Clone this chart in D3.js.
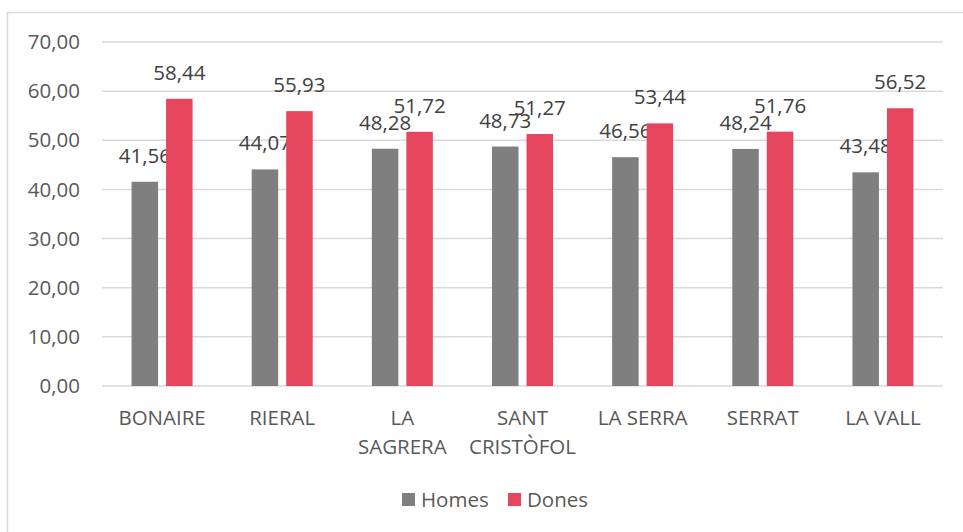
<!DOCTYPE html>
<html lang="ca">
<head>
<meta charset="utf-8">
<title>Homes i dones per barri</title>
<script src="https://d3js.org/d3.v7.min.js"></script>
<style>
  body { margin: 0; background: #fff; }
  text { font-family: "Open Sans", sans-serif; }
</style>
</head>
<body>
<div id="chart"></div>
<script>
// categories and values
var barris = [["BONAIRE"], ["RIERAL"], ["LA", "SAGRERA"], ["SANT", "CRISTÒFOL"], ["LA SERRA"], ["SERRAT"], ["LA VALL"]];
var homes = [41.56, 44.07, 48.28, 48.73, 46.56, 48.24, 43.48];
var dones = [58.44, 55.93, 51.72, 51.27, 53.44, 51.76, 56.52];
var yTicks = [0, 10, 20, 30, 40, 50, 60, 70];
var seriesNames = ["Homes", "Dones"];
var colors = ["#7f7f7f", "#e6455e"];

var W = 963, H = 532;
var plot = {left: 102, right: 943, top: 42, bottom: 386};
var fs = "20.5px";

var svg = d3.select("#chart").append("svg")
    .attr("width", W)
    .attr("height", H);

// chart area border (open on right and bottom, as cropped)
svg.append("rect")
    .attr("x", 7.5).attr("y", 12.5)
    .attr("width", W).attr("height", H)
    .attr("fill", "#fff")
    .attr("stroke", "#d9d9d9")
    .attr("stroke-width", 1.5);

var x = d3.scaleBand()
    .domain(d3.range(barris.length))
    .range([plot.left, plot.right]);

var x1 = d3.scaleBand()
    .domain([0, 1])
    .range([0, x.bandwidth()])
    .paddingInner(0.232)
    .paddingOuter(0.857);

var y = d3.scaleLinear().domain([0, 70]).range([plot.bottom, plot.top]);

var fmt = function(v) { return d3.format(".2f")(v).replace(".", ","); };

// gridlines
svg.append("g").selectAll("line")
    .data(yTicks)
    .enter().append("line")
    .attr("x1", plot.left).attr("x2", plot.right)
    .attr("y1", function(d) { return y(d); })
    .attr("y2", function(d) { return y(d); })
    .attr("stroke", "#d9d9d9")
    .attr("stroke-width", 1.5);

// y axis labels
svg.append("g").selectAll("text")
    .data(yTicks)
    .enter().append("text")
    .attr("x", 80)
    .attr("y", function(d) { return y(d); })
    .attr("dy", "0.35em")
    .attr("text-anchor", "end")
    .attr("fill", "#595959")
    .style("font-size", fs)
    .text(fmt);

// bars
var series = [homes, dones];
series.forEach(function(vals, s) {
    var g = svg.append("g");
    g.selectAll("rect")
        .data(vals)
        .enter().append("rect")
        .attr("x", function(d, i) { return x(i) + x1(s); })
        .attr("width", x1.bandwidth())
        .attr("y", function(d) { return y(d); })
        .attr("height", function(d) { return y(0) - y(d); })
        .attr("fill", colors[s]);
    g.selectAll("text")
        .data(vals)
        .enter().append("text")
        .attr("x", function(d, i) { return x(i) + x1(s) + x1.bandwidth() / 2; })
        .attr("y", function(d) { return y(d) - 19; })
        .attr("text-anchor", "middle")
        .attr("fill", "#404040")
        .style("font-size", fs)
        .text(fmt);
});

// category labels
var cat = svg.append("g").selectAll("text")
    .data(barris)
    .enter().append("text")
    .attr("x", function(d, i) { return x(i) + x.bandwidth() / 2; })
    .attr("y", 425)
    .attr("text-anchor", "middle")
    .attr("fill", "#595959")
    .style("font-size", fs);
cat.selectAll("tspan")
    .data(function(d) { return d; })
    .enter().append("tspan")
    .attr("x", function() { return this.parentNode.getAttribute("x"); })
    .attr("dy", function(d, i) { return i ? 29 : 0; })
    .text(function(d) { return d; });

// legend
var legX = [402, 508];
var leg = svg.append("g").selectAll("g")
    .data(seriesNames)
    .enter().append("g")
    .attr("transform", function(d, i) { return "translate(" + legX[i] + ",493)"; });
leg.append("rect")
    .attr("width", 13).attr("height", 13)
    .attr("fill", function(d, i) { return colors[i]; });
leg.append("text")
    .attr("x", 19).attr("y", 6.5)
    .attr("dy", "0.35em")
    .attr("fill", "#595959")
    .style("font-size", fs)
    .text(function(d) { return d; });
</script>
</body>
</html>
